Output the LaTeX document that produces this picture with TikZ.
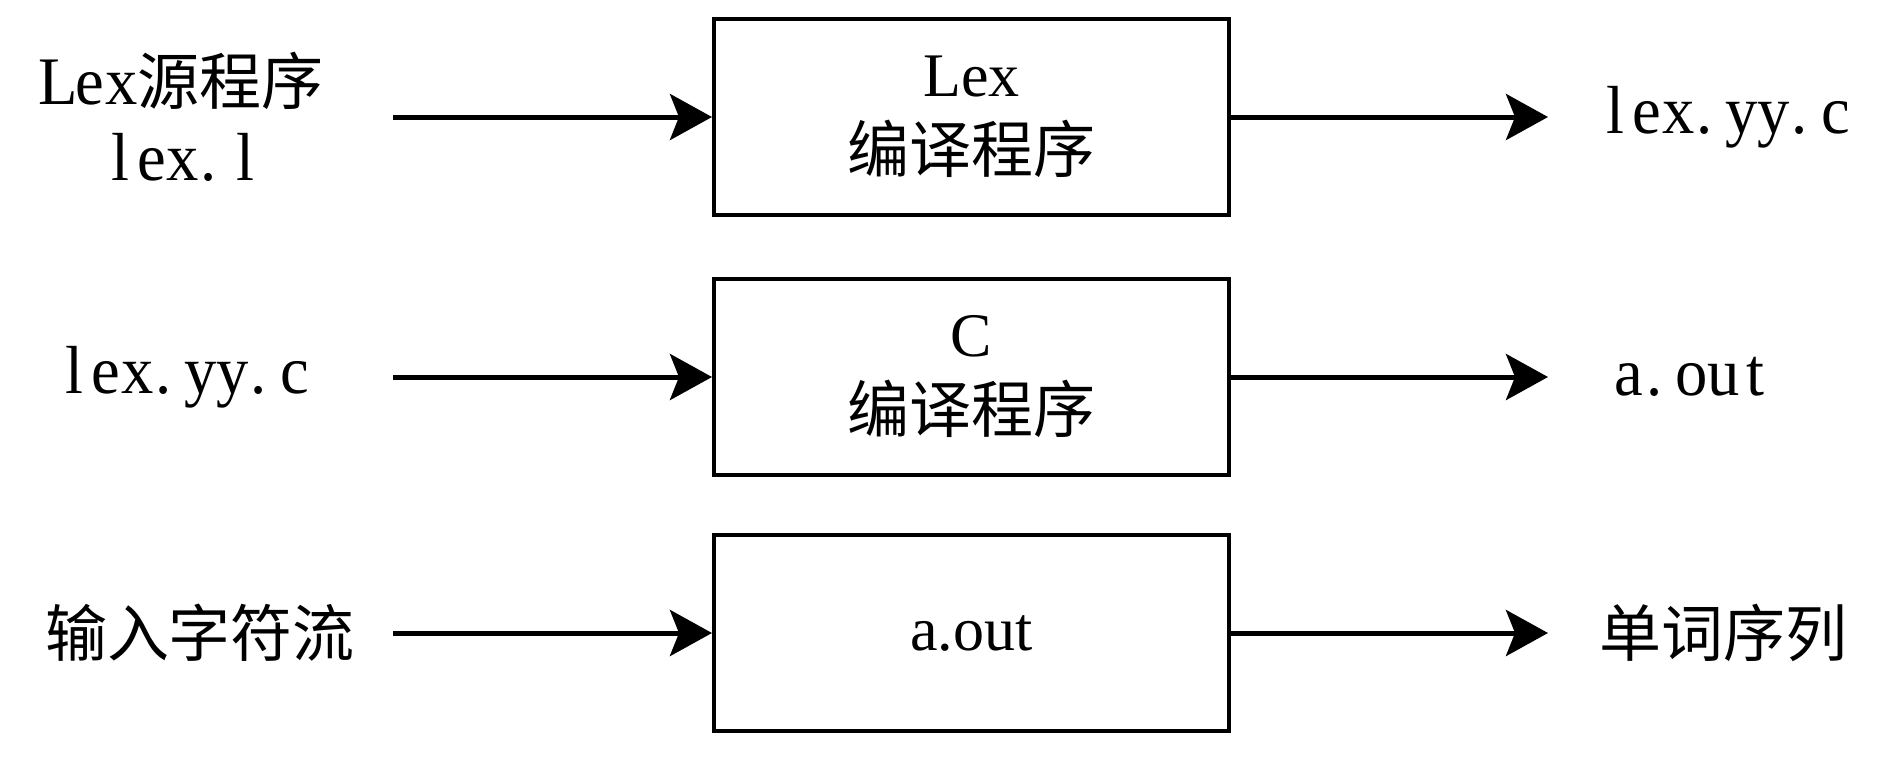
\documentclass[tikz,border=0pt]{standalone}
\usepackage{fontspec}
\setmainfont{Liberation Serif}
\newfontfamily\cjk{Noto Sans CJK SC}
\newfontfamily\mono[FakeStretch=0.95]{Liberation Serif}
\usetikzlibrary{arrows.meta}
% half-width monospaced setting: every character in a cell of fixed width
\def\monotext#1{{\mono\fontsize{68}{76}\selectfont\monoloop#1\relax}}
\def\monoloop#1{\ifx#1\relax\else\monocell{#1}\expandafter\monoloop\fi}
\def\monocell#1{\if#1.\makebox[31.5pt][l]{\hspace{2pt}#1}\else\makebox[31.5pt]{#1}\fi}
\begin{document}
\begin{tikzpicture}[x=1pt,y=-1pt,
  box/.style={draw, line width=4pt, minimum width=515pt, minimum height=196pt, inner sep=0pt, align=center, font=\fontsize{62}{76}\selectfont},
  lbl/.style={inner sep=0pt, align=center, font=\fontsize{62}{76}\selectfont},
  arr/.style={line width=5pt, -{Stealth[length=42pt,width=46pt,inset=9pt]}}]
\useasboundingbox (0,0) rectangle (1885,761);
% boxes
\node[box] (b1) at (971.5,117) {Lex\\{\cjk 编译程序}};
\node[box] (b2) at (971.5,377) {C\\{\cjk 编译程序}};
\node[box] (b3) at (971.5,633) {a.out};
% left labels
\node[lbl] (src) at (183,117) {\monotext{Lex}{\cjk 源程序}\\\monotext{lex.l}};
\node[lbl] (lyy) at (185,377) {\monotext{lex.yy.c}};
\node[lbl] (inp) at (200,633) {\cjk 输入字符流};
% right labels
\node[lbl] (ryy) at (1726,117) {\monotext{lex.yy.c}};
\node[lbl] (aout) at (1692,377) {\monotext{a.out}};
\node[lbl] (seq) at (1723,633) {\cjk 单词序列};
% arrow ends
\coordinate (s1) at (393,117);
\coordinate (s2) at (393,377);
\coordinate (s3) at (393,633);
\coordinate (e1) at (1548,117);
\coordinate (e2) at (1548,377);
\coordinate (e3) at (1548,633);
\draw[arr] (s1) -- (b1.west);
\draw[arr] (s2) -- (b2.west);
\draw[arr] (s3) -- (b3.west);
\draw[arr] (b1.east) -- (e1);
\draw[arr] (b2.east) -- (e2);
\draw[arr] (b3.east) -- (e3);
\end{tikzpicture}
\end{document}
